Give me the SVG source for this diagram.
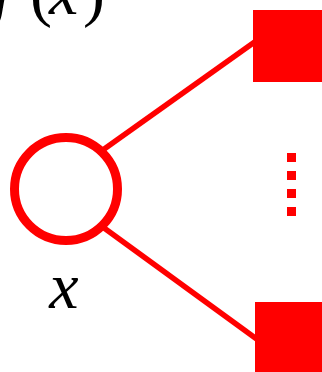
<svg xmlns="http://www.w3.org/2000/svg" width="322" height="372" viewBox="0 0 322 372">
<style>
.edge{stroke:#ff0000;stroke-width:5.5;fill:none}
.sq{fill:#ff0000}
.lbl{font-family:"Liberation Serif",serif;font-size:66px;fill:#000}
.it{font-style:italic}
</style>
<rect width="322" height="372" fill="#fff"/>
<g id="connectors">
<line class="edge" x1="100" y1="152" x2="256" y2="41"/>
<line class="edge" x1="100" y1="225" x2="258" y2="340"/>
</g>
<g id="node-x">
<circle cx="66" cy="189" r="51.5" fill="#fff" stroke="#ff0000" stroke-width="9"/>
<text class="lbl it" x="64" y="308" text-anchor="middle">x</text>
</g>
<g id="node-top">
<rect class="sq" x="253" y="10" width="69" height="72"/>
</g>
<g id="node-bottom">
<rect class="sq" x="255" y="302" width="67" height="70"/>
</g>
<g id="dots">
<rect class="sq" x="287" y="153" width="9" height="9"/>
<rect class="sq" x="287" y="171" width="9" height="9"/>
<rect class="sq" x="287" y="189" width="9" height="9"/>
<rect class="sq" x="287" y="207" width="9" height="9"/>
</g>
<g id="label-top">
<text class="lbl" y="14"><tspan class="it" x="-24">g</tspan><tspan x="30">(</tspan><tspan class="it" x="49">x</tspan><tspan x="83">)</tspan></text>
</g>
</svg>
